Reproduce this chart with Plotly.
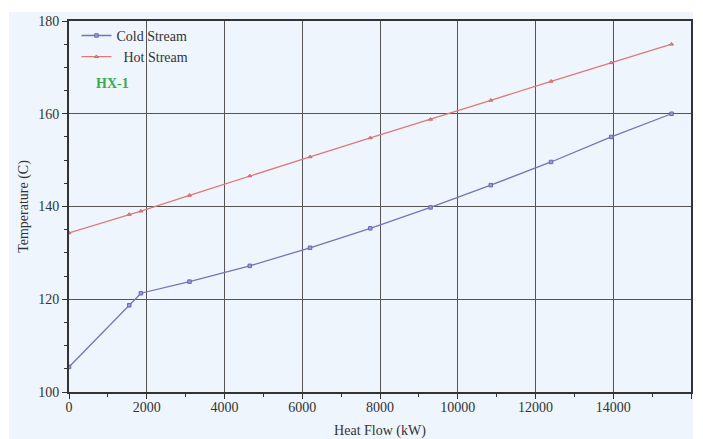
import plotly.graph_objects as go

heat_flow = [0, 1550, 1850, 3100, 4650, 6200, 7750, 9300, 10850, 12400, 13950, 15500]
cold_temp = [105.4, 118.7, 121.3, 123.8, 127.2, 131.1, 135.3, 139.8, 144.6, 149.6, 155.0, 160.0]
hot_temp = [134.3, 138.3, 139.0, 142.4, 146.6, 150.7, 154.8, 158.8, 162.9, 167.0, 171.0, 175.0]

x_ticks = [0, 2000, 4000, 6000, 8000, 10000, 12000, 14000, 16000]
y_ticks = [100, 120, 140, 160, 180]

FONT = "Liberation Serif, Times New Roman, serif"

fig = go.Figure()
fig.add_trace(go.Scatter(
    x=heat_flow, y=cold_temp, mode="lines+markers", name="Cold Stream",
    line=dict(color="#7474b4", width=1.3),
    marker=dict(symbol="square", size=3.5, color="#9a9ad8", line=dict(color="#6a6ab0", width=1)),
))
fig.add_trace(go.Scatter(
    x=heat_flow, y=hot_temp, mode="lines+markers", name="  Hot Stream",
    line=dict(color="#e07878", width=1.3),
    marker=dict(symbol="triangle-up", size=3.5, color="#e88a8a", line=dict(color="#c86a6a", width=1)),
))

axis_common = dict(
    showline=True, linecolor="#333333", linewidth=2, mirror=True,
    showgrid=True, gridcolor="#555555", gridwidth=1,
    ticks="outside", ticklen=5, tickcolor="#333333", tickwidth=1,
    tickfont=dict(family=FONT, size=14, color="#333333"),
    zeroline=False, automargin=False,
)

fig.update_layout(
    width=703, height=439,
    margin=dict(l=69, r=12, t=21, b=47),
    paper_bgcolor="white",
    plot_bgcolor="#eef5fd",
    font=dict(family=FONT, color="#333333"),
    showlegend=True,
    legend=dict(
        x=0.012, y=1.003, xanchor="left", yanchor="top",
        bgcolor="rgba(0,0,0,0)", borderwidth=0,
        font=dict(family=FONT, size=14, color="#333333"),
        itemwidth=30, tracegroupgap=4,
    ),
    xaxis=dict(
        range=[0, 16000], tickvals=x_ticks, ticktext=[str(v) for v in x_ticks],
        minor=dict(dtick=1000, ticks="outside", ticklen=3, tickcolor="#333333", showgrid=False),
        ticklabelstandoff=-4,
        title=dict(text="Heat Flow (kW)", font=dict(family=FONT, size=14, color="#333333"), standoff=18),
        **axis_common,
    ),
    yaxis=dict(
        range=[100, 180], tickvals=y_ticks, ticktext=[str(v) for v in y_ticks],
        minor=dict(dtick=5, ticks="outside", ticklen=3, tickcolor="#333333", showgrid=False),
        title=dict(text="Temperature (C)", font=dict(family=FONT, size=14, color="#333333"), standoff=6),
        **axis_common,
    ),
    shapes=[dict(
        type="rect", xref="paper", yref="paper", layer="below",
        x0=-60/622, x1=1 + 2/622, y0=-47/371, y1=1 + 9/371,
        fillcolor="#eef5fd", line=dict(width=0),
    )],
    annotations=[dict(
        text="<b>HX-1</b>", xref="paper", yref="paper",
        x=(94 - 69) / 622, y=(392 - 83) / 371, xanchor="left", yanchor="middle",
        showarrow=False, font=dict(family=FONT, size=14, color="#3aaa50"),
    )],
)

fig.write_html("out.html")
